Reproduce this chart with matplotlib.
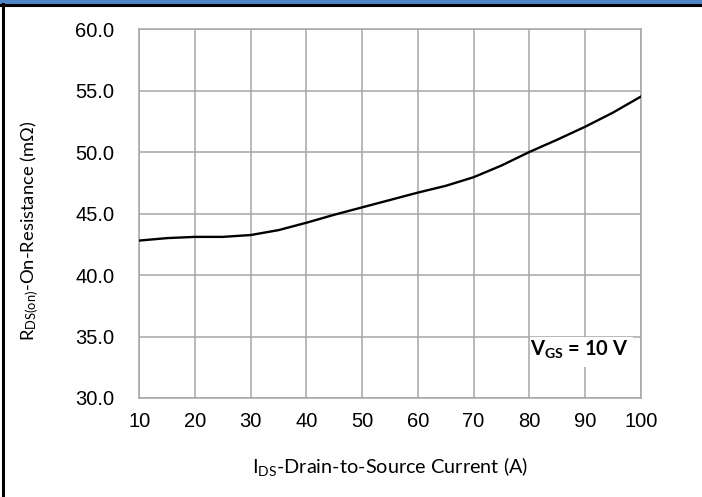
#Rds(on) vs drain current plot

import matplotlib
matplotlib.use("Agg")
import matplotlib.pyplot as plt
from matplotlib.patches import Rectangle
from matplotlib.lines import Line2D

# data
current_a = [10, 15, 20, 25, 30, 35, 40, 45, 50, 55, 60, 65, 70, 75, 80, 85, 90, 95, 100]
rds_on_mohm = [42.8, 43.0, 43.1, 43.1, 43.25, 43.65, 44.25, 44.9, 45.5, 46.1, 46.7,
               47.25, 47.95, 48.9, 50.0, 51.0, 52.05, 53.2, 54.5]
x_ticks = [10, 20, 30, 40, 50, 60, 70, 80, 90, 100]
y_ticks = [30.0, 35.0, 40.0, 45.0, 50.0, 55.0, 60.0]

label_font = ['Lato', 'DejaVu Sans']
tick_font = ['Liberation Sans', 'DejaVu Sans']

fig = plt.figure(figsize=(7.02, 4.97), dpi=100)
ax = fig.add_axes([0.1984, 0.1992, 0.7143, 0.7424])

ax.plot(current_a, rds_on_mohm, color='black', linewidth=1.7, zorder=3)

ax.set_xlim(10, 100)
ax.set_ylim(30, 60)
ax.set_xticks(x_ticks)
ax.set_yticks(y_ticks)
ax.set_xticklabels([str(t) for t in x_ticks], family=tick_font, fontsize=14.5)
ax.set_yticklabels([f"{t:.1f}" for t in y_ticks], family=tick_font, fontsize=14.5)
ax.tick_params(axis='x', length=0, pad=10)
ax.tick_params(axis='y', length=0, pad=18)

ax.grid(True, color='#a6a6a6', linewidth=1.1)
ax.set_axisbelow(True)
for s in ax.spines.values():
    s.set_color('#a6a6a6')
    s.set_linewidth(1.1)

ax.set_xlabel(r'I$\mathregular{_{DS}}$-Drain-to-Source Current (A)', family=label_font,
              fontsize=14.3)
ax.set_ylabel(r'R$\mathregular{_{DS(on)}}$-On-Resistance (m$\mathregular{\Omega}$)', family=label_font,
              fontsize=13.2)
ax.xaxis.set_label_coords(0.5, -0.187)
ax.yaxis.set_label_coords(-0.218, 0.4526)
ax.yaxis.label.set_va('center')
ax.xaxis.label.set_va('center')

# V_GS condition box
ax.add_patch(Rectangle((80.1, 32.5), 18.5, 2.42, facecolor='white', edgecolor='none', zorder=2))
ax.text(89.0, 33.9, r'V$\mathregular{_{GS}}$ = 10 V', family=label_font, fontweight='bold',
        fontsize=14.5, ha='center', va='center', zorder=4)

# table frame: blue header strip and black border
fig.patches.append(Rectangle((0, 1 - 4 / 497), 1, 4 / 497, transform=fig.transFigure,
                             facecolor='#4f86c6', edgecolor='none'))
fig.lines.append(Line2D([0, 1], [1 - 5 / 497, 1 - 5 / 497], transform=fig.transFigure,
                        color='black', linewidth=2.2))
fig.lines.append(Line2D([3 / 702, 3 / 702], [0, 1 - 4 / 497], transform=fig.transFigure,
                        color='black', linewidth=2.2))

fig.savefig('out.png', dpi=100)
